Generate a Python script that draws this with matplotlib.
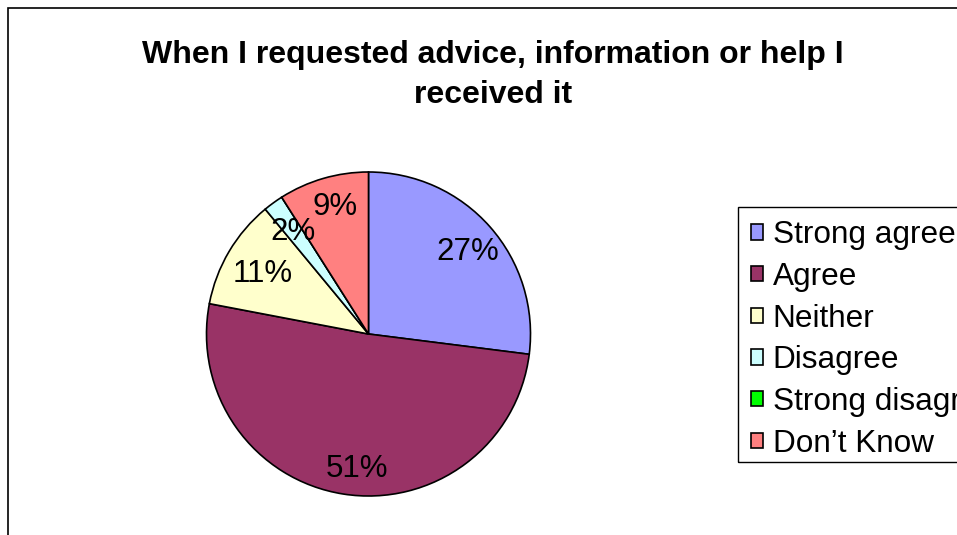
import matplotlib
matplotlib.use("Agg")
import matplotlib.pyplot as plt
from matplotlib.patches import Rectangle
import numpy as np

plt.rcParams['font.family'] = ['Liberation Sans', 'DejaVu Sans']

categories = ["Strong agree", "Agree", "Neither", "Disagree", "Strong disagree", "Don\u2019t Know"]
values = [27, 51, 11, 2, 0, 9]
colors = ["#9999FF", "#993366", "#FFFFCC", "#CCFFFF", "#00FF00", "#FF8080"]
title = "When I requested advice, information or help I\nreceived it"

W, H = 957, 535
fig = plt.figure(figsize=(W / 100, H / 100), dpi=100)
ax = fig.add_axes([0, 0, 1, 1])

# chart area border
ax.add_patch(Rectangle((8, -20), W + 20, H - 8 + 20, fill=False, edgecolor='black', lw=1.2))

cx, cy, r = 368.5, H - 334, 162
wedges, _ = ax.pie(values, colors=colors, startangle=90, counterclock=False,
                   center=(cx, cy), radius=r, frame=True,
                   wedgeprops=dict(edgecolor='black', linewidth=1.2))
ax.set_xlim(0, W)
ax.set_ylim(0, H)
ax.set_aspect('equal')
ax.axis('off')

# percentage labels inside the slices: (radial fraction, angular nudge in degrees)
label_pos = [(0.796, -1.9), (0.836, 4.1), (0.749, 1.0), (0.783, 0.5), (0.0, 0.0), (0.81, -1.4)]
for w, v, (d, nudge) in zip(wedges, values, label_pos):
    if v == 0:
        continue
    ang = np.deg2rad((w.theta1 + w.theta2) / 2 + nudge)
    ax.text(cx + d * r * np.cos(ang), cy + d * r * np.sin(ang), f"{v}%",
            ha='center', va='center', fontsize=22.5)

fig.text(493 / W, 1 - 75 / H, title, ha='center', va='center',
         fontsize=23, fontweight='bold', linespacing=1.4)

# legend box
ax.add_patch(Rectangle((738, H - 462), W, 462 - 207, fill=False,
                       edgecolor='black', lw=1.0, zorder=5))
leg = fig.legend(wedges, categories, loc='upper left',
                 bbox_to_anchor=(738 / W, 1 - 207 / H), borderaxespad=0,
                 fontsize=22.7, handlelength=0.38, handleheight=0.38,
                 handletextpad=0.3, labelspacing=0.37, borderpad=0.42,
                 fancybox=False, frameon=False)
for h in leg.legend_handles:
    h.set_linewidth(1.2)

fig.savefig("out.png", dpi=100)
